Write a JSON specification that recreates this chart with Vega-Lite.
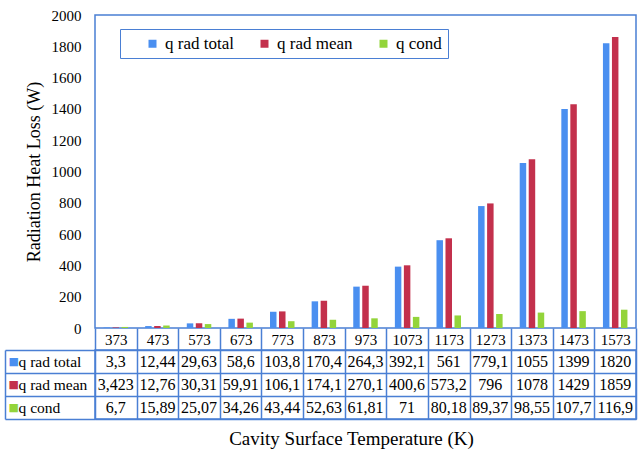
{
  "$schema": "https://vega.github.io/schema/vega-lite/v6.json",
  "padding": {"left": 3, "top": 7, "right": 4, "bottom": 4},
  "config": {
    "font": "Liberation Serif, Times New Roman, serif",
    "view": {"stroke": "#4a7fd4", "strokeWidth": 1.5},
    "axis": {"labelFont": "Liberation Serif, Times New Roman, serif", "titleFont": "Liberation Serif, Times New Roman, serif", "labelColor": "#000", "titleColor": "#000", "titleFontWeight": "normal", "minExtent": 0},
    "legend": {"labelFont": "Liberation Serif, Times New Roman, serif", "labelColor": "#000"},
    "text": {"font": "Liberation Serif, Times New Roman, serif", "color": "#000"}
  },
  "datasets": {
    "d": [
      {"T": 373, "series": "q rad total", "value": 3.3, "label": "3,3"},
      {"T": 473, "series": "q rad total", "value": 12.44, "label": "12,44"},
      {"T": 573, "series": "q rad total", "value": 29.63, "label": "29,63"},
      {"T": 673, "series": "q rad total", "value": 58.6, "label": "58,6"},
      {"T": 773, "series": "q rad total", "value": 103.8, "label": "103,8"},
      {"T": 873, "series": "q rad total", "value": 170.4, "label": "170,4"},
      {"T": 973, "series": "q rad total", "value": 264.3, "label": "264,3"},
      {"T": 1073, "series": "q rad total", "value": 392.1, "label": "392,1"},
      {"T": 1173, "series": "q rad total", "value": 561, "label": "561"},
      {"T": 1273, "series": "q rad total", "value": 779.1, "label": "779,1"},
      {"T": 1373, "series": "q rad total", "value": 1055, "label": "1055"},
      {"T": 1473, "series": "q rad total", "value": 1399, "label": "1399"},
      {"T": 1573, "series": "q rad total", "value": 1820, "label": "1820"},
      {"T": 373, "series": "q rad mean", "value": 3.423, "label": "3,423"},
      {"T": 473, "series": "q rad mean", "value": 12.76, "label": "12,76"},
      {"T": 573, "series": "q rad mean", "value": 30.31, "label": "30,31"},
      {"T": 673, "series": "q rad mean", "value": 59.91, "label": "59,91"},
      {"T": 773, "series": "q rad mean", "value": 106.1, "label": "106,1"},
      {"T": 873, "series": "q rad mean", "value": 174.1, "label": "174,1"},
      {"T": 973, "series": "q rad mean", "value": 270.1, "label": "270,1"},
      {"T": 1073, "series": "q rad mean", "value": 400.6, "label": "400,6"},
      {"T": 1173, "series": "q rad mean", "value": 573.2, "label": "573,2"},
      {"T": 1273, "series": "q rad mean", "value": 796, "label": "796"},
      {"T": 1373, "series": "q rad mean", "value": 1078, "label": "1078"},
      {"T": 1473, "series": "q rad mean", "value": 1429, "label": "1429"},
      {"T": 1573, "series": "q rad mean", "value": 1859, "label": "1859"},
      {"T": 373, "series": "q cond", "value": 6.7, "label": "6,7"},
      {"T": 473, "series": "q cond", "value": 15.89, "label": "15,89"},
      {"T": 573, "series": "q cond", "value": 25.07, "label": "25,07"},
      {"T": 673, "series": "q cond", "value": 34.26, "label": "34,26"},
      {"T": 773, "series": "q cond", "value": 43.44, "label": "43,44"},
      {"T": 873, "series": "q cond", "value": 52.63, "label": "52,63"},
      {"T": 973, "series": "q cond", "value": 61.81, "label": "61,81"},
      {"T": 1073, "series": "q cond", "value": 71, "label": "71"},
      {"T": 1173, "series": "q cond", "value": 80.18, "label": "80,18"},
      {"T": 1273, "series": "q cond", "value": 89.37, "label": "89,37"},
      {"T": 1373, "series": "q cond", "value": 98.55, "label": "98,55"},
      {"T": 1473, "series": "q cond", "value": 107.7, "label": "107,7"},
      {"T": 1573, "series": "q cond", "value": 116.9, "label": "116,9"}
    ]
  },
  "data": {"name": "d"},
  "spacing": 22,
  "bounds": "flush",
  "vconcat": [
    {
      "width": 541,
      "height": 313,
      "mark": {"type": "bar"},
      "encoding": {
        "x": {
          "field": "T",
          "type": "ordinal",
          "scale": {"paddingInner": 0, "paddingOuter": 0},
          "axis": {
            "title": null,
            "orient": "bottom",
            "domain": false,
            "tickBand": "extent",
            "tickSize": 22,
            "tickColor": "#4a7fd4",
            "tickWidth": 1.5,
            "labelAngle": 0,
            "labelBaseline": "middle",
            "labelPadding": -11,
            "labelFontSize": 15,
            "minExtent": 0,
            "maxExtent": 22
          }
        },
        "xOffset": {
          "field": "series",
          "type": "nominal",
          "sort": ["q rad total", "q rad mean", "q cond"],
          "scale": {"paddingInner": 0.28, "paddingOuter": 0.95}
        },
        "y": {
          "field": "value",
          "type": "quantitative",
          "scale": {"domain": [0, 2000], "nice": false},
          "axis": {
            "title": "Radiation Heat Loss (W)",
            "titleFontSize": 18,
            "titlePadding": 8,
            "values": [0, 200, 400, 600, 800, 1000, 1200, 1400, 1600, 1800, 2000],
            "format": "d",
            "grid": false,
            "ticks": false,
            "tickSize": 0,
            "domain": false,
            "labelPadding": 14,
            "labelFontSize": 15
          }
        },
        "color": {
          "field": "series",
          "type": "nominal",
          "scale": {
            "domain": ["q rad total", "q rad mean", "q cond"],
            "range": ["#4a8ff0", "#c3304c", "#93d43a"]
          },
          "legend": {
            "title": null,
            "orient": "none",
            "legendX": 25,
            "legendY": 14,
            "direction": "horizontal",
            "strokeColor": "#4a7fd4",
            "fillColor": "#ffffff",
            "padding": 6,
            "symbolType": "square",
            "symbolSize": 64,
            "symbolStrokeWidth": 0,
            "symbolOffset": 18,
            "labelFontSize": 17,
            "labelOffset": 4,
            "columnPadding": 4
          }
        }
      }
    },
    {
      "width": 541,
      "height": 69,
      "layer": [
        {
          "mark": {"type": "text", "fontSize": 16, "baseline": "middle"},
          "encoding": {
            "x": {
              "field": "T",
              "type": "ordinal",
              "scale": {"paddingInner": 0, "paddingOuter": 0},
              "axis": {
                "orient": "bottom",
                "title": "Cavity Surface Temperature (K)",
                "titleFontSize": 19,
                "titlePadding": 10,
                "titleX": 256,
                "labels": false,
                "ticks": false,
                "domain": false,
                "grid": true,
                "tickBand": "extent",
                "gridColor": "#4a7fd4",
                "gridWidth": 1.5,
                "gridOpacity": 1
              }
            },
            "y": {
              "field": "series",
              "type": "nominal",
              "scale": {"domain": ["q rad total", "q rad mean", "q cond"], "paddingInner": 0, "paddingOuter": 0},
              "axis": {
                "orient": "left",
                "title": null,
                "domain": false,
                "tickBand": "extent",
                "tickSize": 90,
                "tickColor": "#4a7fd4",
                "tickWidth": 1.5,
                "grid": true,
                "gridColor": "#4a7fd4",
                "gridWidth": 1.5,
                "gridOpacity": 1,
                "labelAlign": "left",
                "labelBaseline": "middle",
                "labelPadding": -13,
                "labelFontSize": 15.5
              }
            },
            "text": {"field": "label"}
          }
        },
        {
          "mark": {"type": "text"},
          "encoding": {
            "y": {
              "field": "series",
              "type": "nominal",
              "axis": {
                "orient": "left",
                "offset": 90,
                "title": null,
                "domain": true,
                "domainColor": "#4a7fd4",
                "domainWidth": 1.5,
                "ticks": false,
                "tickSize": 0,
                "labelExpr": "'■'",
                "labelFont": "DejaVu Sans",
                "labelFontSize": 11,
                "labelAlign": "left",
                "labelBaseline": "middle",
                "labelPadding": -3,
                "labelColor": {
                  "condition": [
                    {"test": "datum.value === 'q rad total'", "value": "#4a8ff0"},
                    {"test": "datum.value === 'q rad mean'", "value": "#c3304c"}
                  ],
                  "value": "#93d43a"
                }
              }
            },
            "text": {"value": ""}
          }
        }
      ],
      "resolve": {"axis": {"y": "independent"}}
    }
  ]
}
